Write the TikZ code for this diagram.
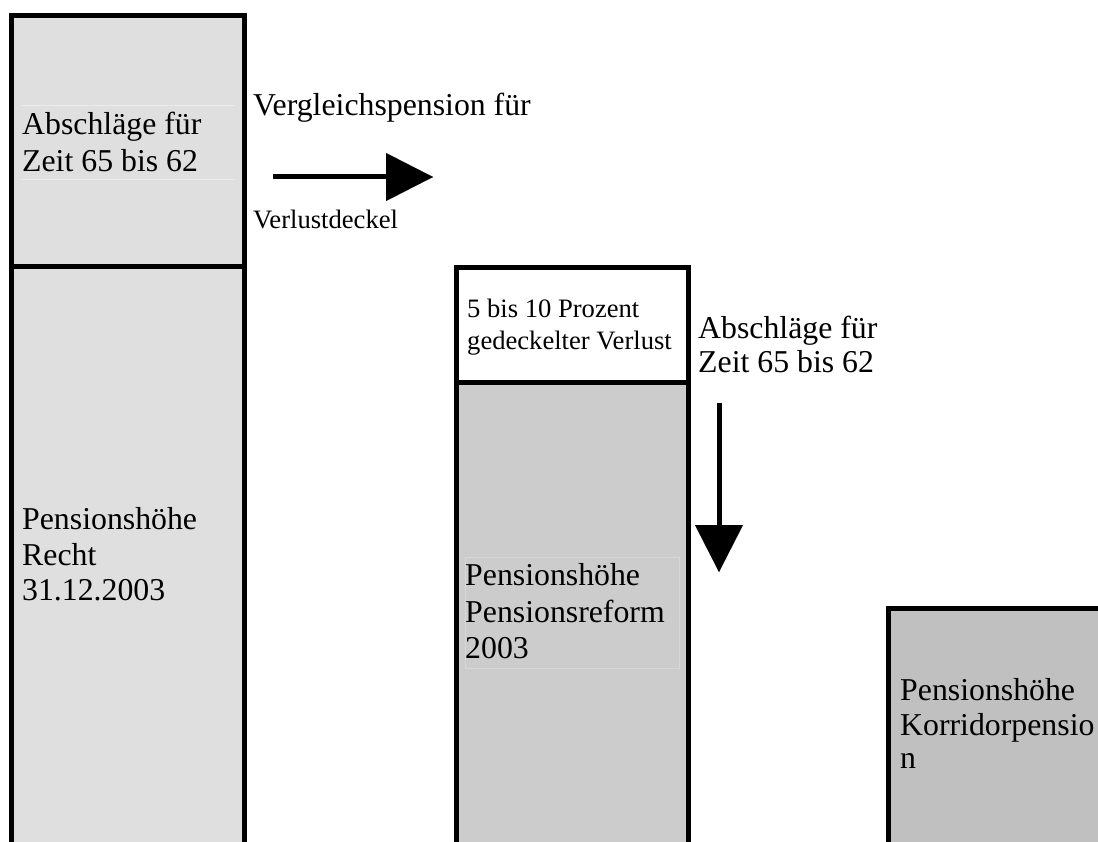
\documentclass[tikz,border=0pt]{standalone}
\usepackage{fontspec}
\setmainfont{Liberation Serif}
\usetikzlibrary{arrows.meta}
\definecolor{boxA}{HTML}{DFDFDF}
\definecolor{boxB}{HTML}{CCCCCC}
\definecolor{boxC}{HTML}{C0C0C0}
\definecolor{frameA}{HTML}{EBEBEB}
\definecolor{frameB}{HTML}{D7D7D7}
\tikzset{
  big/.style={anchor=base west, inner sep=0pt, font=\fontsize{31.8}{36}\selectfont},
  small/.style={anchor=base west, inner sep=0pt, font=\fontsize{26.6}{30}\selectfont},
  border/.style={line width=5pt, black},
  faint/.style={line width=0.8pt},
  bigarrow/.style={line width=5pt, -{Triangle[length=47pt,width=48pt,line width=0.01pt]}}
}
\begin{document}
\begin{tikzpicture}[x=1pt,y=-1pt]
\useasboundingbox (0,0) rectangle (1098,842);
\clip (0,0) rectangle (1098,842);
\fill[white] (0,0) rectangle (1098,842);
% left column
\fill[boxA] (11.5,16) rectangle (244.5,860);
\draw[frameA,faint] (21,105) -- (235,105);
\draw[frameA,faint] (21,179) -- (235,179);
\draw[border] (11.5,860) -- (11.5,16) -- (244.5,16) -- (244.5,860);
\draw[border] (11.5,267) -- (244.5,267);
% middle column
\fill[white] (456,268) rectangle (688,382);
\fill[boxB] (456,382) rectangle (688,860);
\draw[frameB,faint] (465,557) rectangle (679,668);
\draw[border] (456,860) -- (456,268) -- (688,268) -- (688,860);
\draw[border] (456,382) -- (688,382);
% right column
\fill[boxC] (888,608) rectangle (1110,860);
\draw[border] (888,860) -- (888,608) -- (1110,608);
% arrows
\coordinate (hA) at (273,177);
\coordinate (hB) at (433,177);
\draw[bigarrow] (hA) -- (hB);
\coordinate (vA) at (719,403);
\coordinate (vB) at (719,572);
\draw[bigarrow] (vA) -- (vB);
% texts
\node[big] (a1) at (22,135) {Abschläge für};
\node[big] (a2) at (22,172) {Zeit 65 bis 62};
\node[big] (p1) at (22,529) {Pensionshöhe};
\node[big] (p2) at (22,565) {Recht};
\node[big] (p3) at (22,600) {31.12.2003};
\node[big] (v1) at (253,116) {Vergleichspension für};
\node[small] (v2) at (253,229) {Verlustdeckel};
\node[small] (g1) at (467,318) {5 bis 10 Prozent};
\node[small] (g2) at (467,349) {gedeckelter Verlust};
\node[big] (b1) at (698,338) {Abschläge für};
\node[big] (b2) at (698,373) {Zeit 65 bis 62};
\node[big] (m1) at (465,585) {Pensionshöhe};
\node[big] (m2) at (465,622) {Pensionsreform};
\node[big] (m3) at (465,658) {2003};
\node[big] (k1) at (900,700) {Pensionshöhe};
\node[big] (k2) at (900,735) {Korridorpensio};
\node[big] (k3) at (900,768) {n};
\end{tikzpicture}
\end{document}
